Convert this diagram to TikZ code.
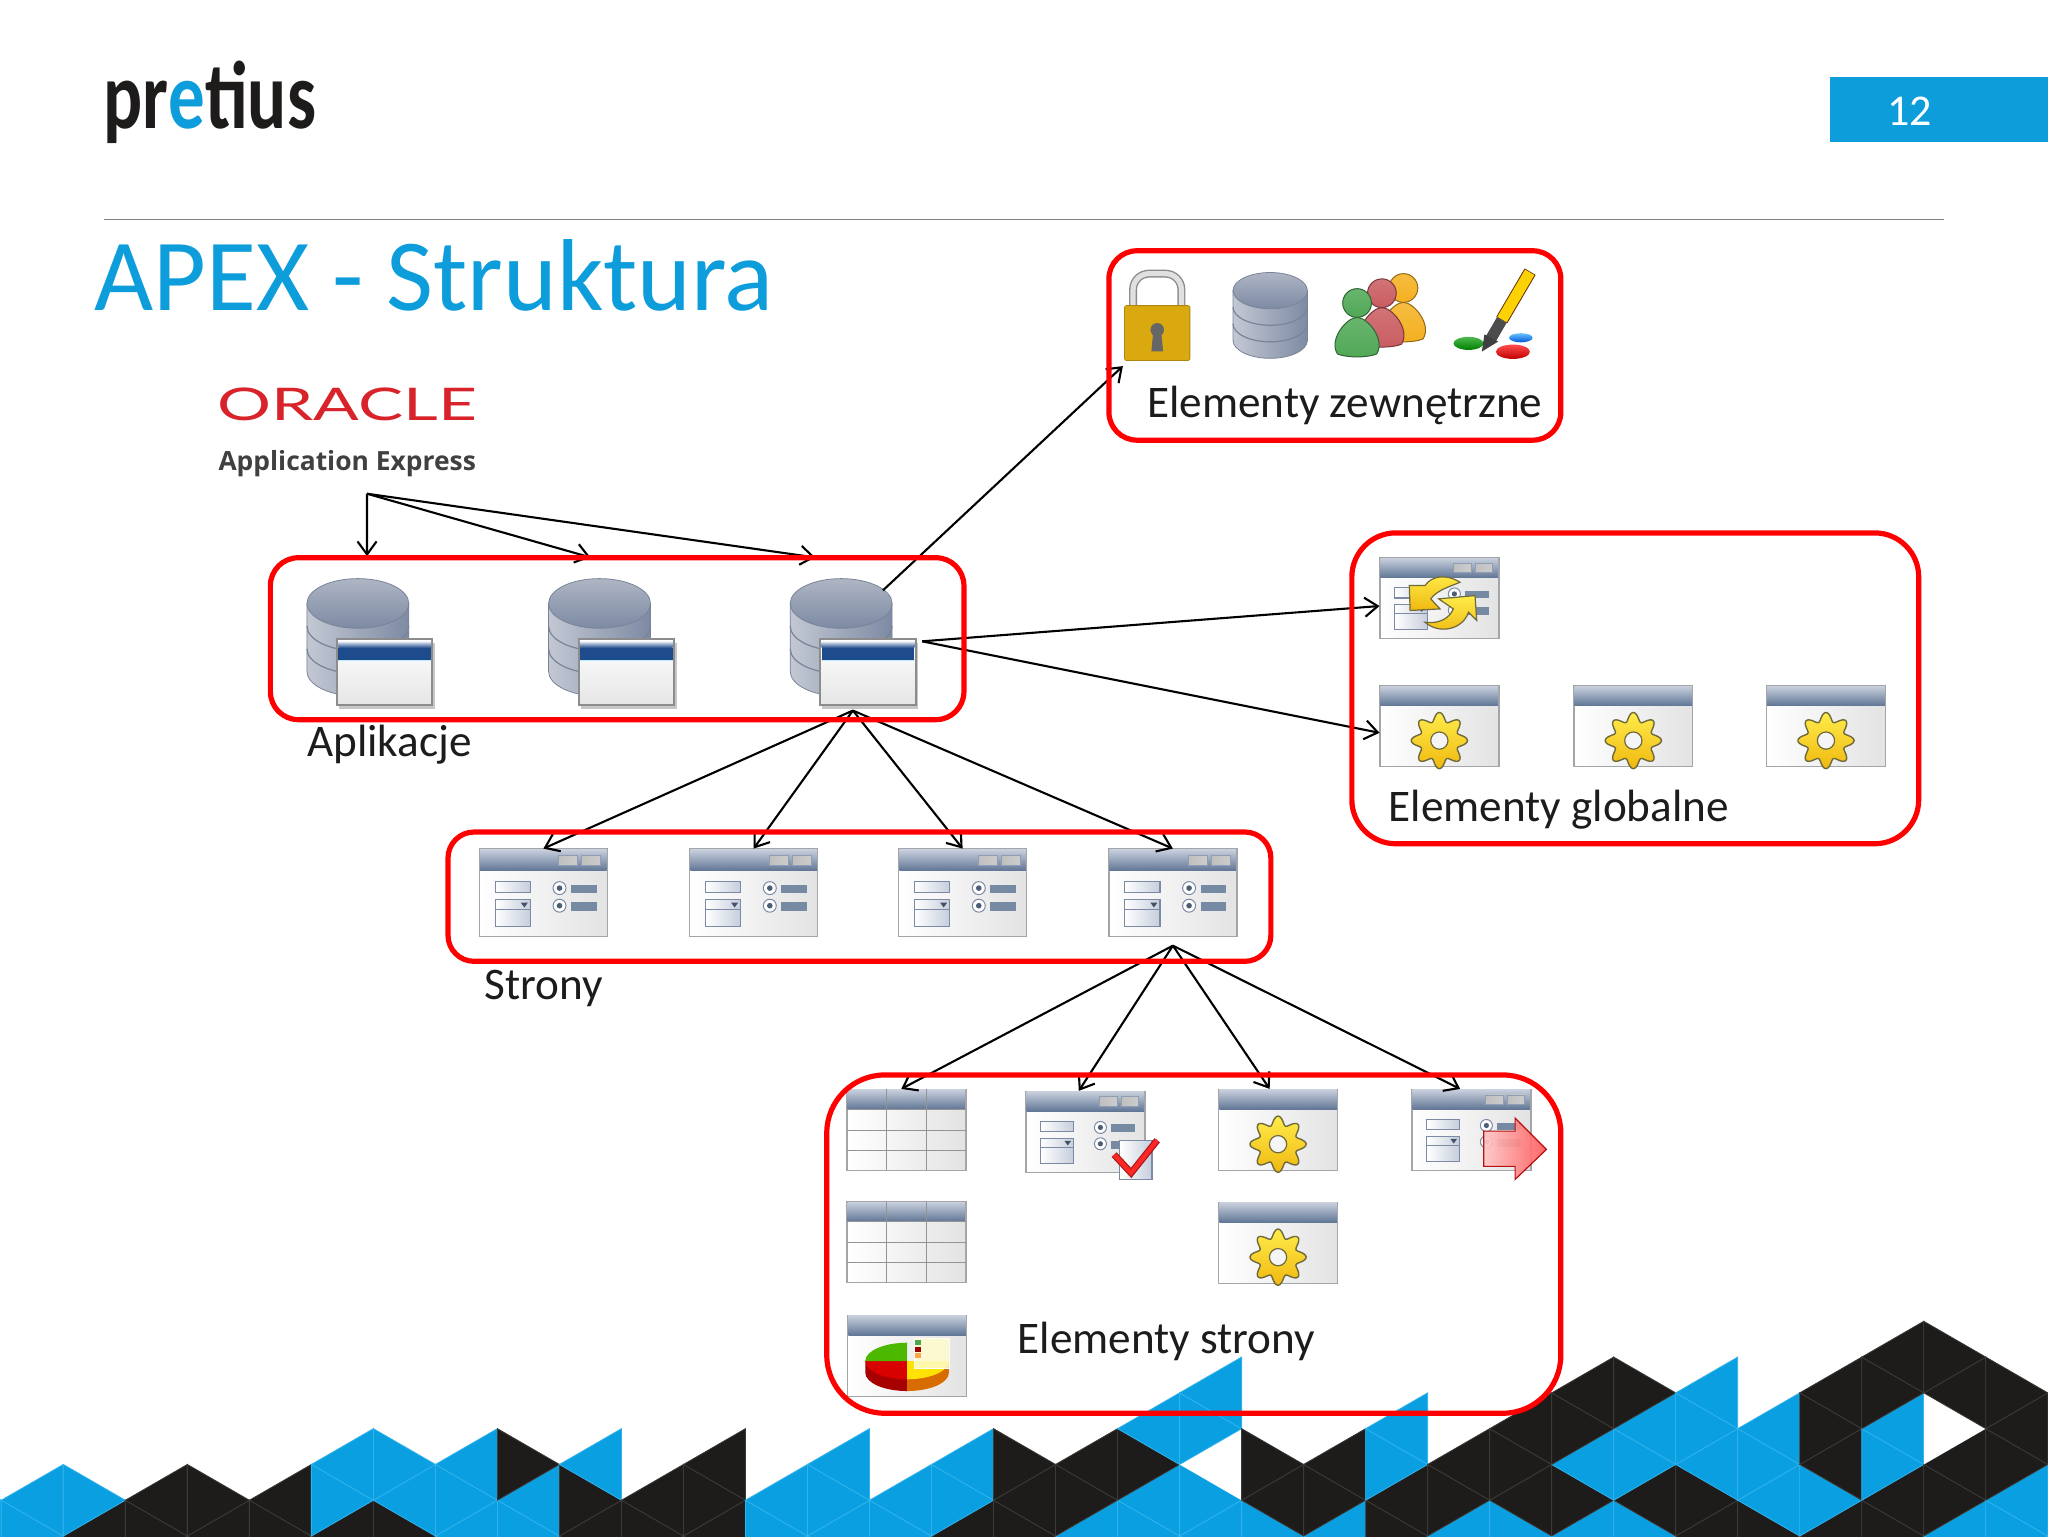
\documentclass[tikz,border=0pt]{standalone}
\usepackage{fontspec}
\setmainfont{Carlito}
\newfontfamily\oraclefont{Lato}
\newfontfamily\subfont{Open Sans}
\usetikzlibrary{arrows.meta}
\definecolor{apexblue}{HTML}{0D9DDB}
\definecolor{triblue}{HTML}{0A9FE0}
\definecolor{triseam}{HTML}{2FB2EE}
\definecolor{triblack}{HTML}{1E1C1B}
\definecolor{triline}{HTML}{3C3A37}
\definecolor{inktext}{HTML}{1C1C1C}
\definecolor{oraclered}{HTML}{D8232A}
\definecolor{framegray}{HTML}{A3A5A8}
\definecolor{barlight}{HTML}{C6CEDC}
\definecolor{bardark}{HTML}{5F7594}
\definecolor{fieldline}{HTML}{7C8AA6}
\definecolor{dbedge}{HTML}{7A8498}
\definecolor{dbleft}{HTML}{C3C8D3}
\definecolor{dbmid}{HTML}{ECEEF2}
\definecolor{dbright}{HTML}{7D8AA3}
\definecolor{appblue}{HTML}{1E4B8C}
\definecolor{geardark}{HTML}{6F6A3C}
\definecolor{gearhigh}{HTML}{FFEC4A}
\definecolor{gearlow}{HTML}{F0B810}
\definecolor{lockside}{HTML}{D9A90F}
\definecolor{lockmid}{HTML}{F5D538}
\definecolor{persongreen}{HTML}{4FA856}
\definecolor{personred}{HTML}{C95C60}
\definecolor{personyellow}{HTML}{F4B020}
\newcommand{\winbase}{
  \path[draw=framegray,line width=.7pt,left color=white,right color=black!11] (-45.5,-31) rectangle (45.5,31);
  \path[top color=barlight,bottom color=bardark] (-45,-30.5) rectangle (45,-15.5);
}
\tikzset{
  iconbox/.style 2 args={inner sep=0pt,minimum width={#1*0.65306pt},minimum height={#2*0.65306pt}},
  caption/.style={anchor=base west,inner sep=0pt,text=inktext,font=\fontsize{22.6}{27}\selectfont},
  redbox/.style={draw=red,line width=2.6pt,rounded corners=#1},
  link/.style={->,black,line width=1.05pt},
  triB/.style={fill=triblue,draw=triseam,line width=.4pt},
  triK/.style={fill=triblack,draw=triline,line width=.4pt},
  triW/.style={fill=white},
  formwin/.pic={
    \winbase
    \foreach \xx in {10.8,27.2}
      \path[draw=bardark!70,line width=.3pt,left color=black!25,right color=white!80!black] (\xx,-26.8) rectangle ++(13.6,7.1);
    \path[draw=fieldline,line width=.6pt,left color=white,right color=barlight] (-34.3,-8) rectangle (-9.2,-.2);
    \path[draw=fieldline,line width=.6pt,left color=white,right color=barlight] (-34.3,5) rectangle (-9.2,12);
    \path[draw=fieldline,line width=.6pt,left color=white,right color=barlight] (-34.3,12) rectangle (-9.2,24.2);
    \fill[bardark!70!black] (-16,7) -- (-11,7) -- (-13.5,10.5) -- cycle;
    \foreach \yy in {-3.3,9.2} {
      \draw[fieldline,fill=white,line width=.5pt] (11.5,\yy) circle (4.6);
      \fill[bardark!80!black] (11.5,\yy) circle (2);
    }
    \fill[bardark!85] (19.7,-5.6) rectangle (38,.2);
    \fill[bardark!85] (19.7,6.8) rectangle (38,13.2);
  },
  syncwin/.pic={
    \pic {formwin};
    \path[draw=geardark,line width=.6pt,top color=gearhigh,bottom color=gearlow] (15.8,-12.2) .. controls (5,-19) and (-6,-17) .. (-11,-9.7) -- (-23,-9.7) -- (-22.4,9.4) -- (.5,8.2) -- (-6.6,.5) .. controls (-2,-6) and (8,-9) .. (15.8,-12.2) -- cycle;
    \path[draw=geardark,line width=.6pt,top color=gearhigh,bottom color=gearlow] (-11,18.4) .. controls (0,20) and (8,15) .. (10.7,8.2) -- (-.5,.5) -- (27.3,-2) -- (28.6,17) -- (22.3,10.7) .. controls (18,24) and (0,28) .. (-11,18.4) -- cycle;
  },
  gearwin/.pic={
    \winbase
    \path[draw=geardark,line width=.7pt,top color=gearhigh,bottom color=gearlow]
      plot[domain=0:360,samples=120,smooth] ({(18.2+3.3*cos(8*\x))*cos(\x)},{11+(18.2+3.3*cos(8*\x))*sin(\x)}) -- cycle;
    \draw[geardark,fill=white!92!gray,line width=.6pt] (0,11) circle (6.6);
  },
  gridwin/.pic={
    \winbase
    \foreach \xx in {-15.2,15.2}
      \draw[black!42,line width=.6pt] (\xx,-31) -- (\xx,31);
    \foreach \yy in {-15.5,.3,15.8}
      \draw[black!42,line width=.6pt] (-45.5,\yy) -- (45.5,\yy);
  },
  checkwin/.pic={
    \pic {formwin};
    \path[draw=fieldline,line width=.6pt,left color=white,right color=barlight] (26,6.5) rectangle (51,36.5);
    \draw[red!60!black!90,line width=3.4pt,line join=miter] (22,17.5) -- (35,31.5) -- (55,6.5);
    \draw[red!85!white,line width=2.2pt,line join=miter] (22,17.5) -- (35,31.5) -- (55,6.5);
  },
  arrowwin/.pic={
    \pic {formwin};
    \path[draw=red!70!black,line width=.6pt,left color=red!22!white,right color=red!65!white,opacity=.92]
      (9.5,1) -- (33.5,1) -- (33.5,-9) -- (57.5,15) -- (33.5,38) -- (33.5,28) -- (9.5,28) -- cycle;
  },
  piewin/.pic={
    \winbase
    \fill[red!65!black] (-32,4) -- (-32,13) arc (180:90:32 and 14) -- (0,18) -- cycle;
    \fill[orange!85!black] (0,27) arc (90:0:32 and 14) -- (32,4) -- (0,18) -- cycle;
    \fill[red!85!black] (0,4) -- (-32,4) arc (180:90:32 and 14) -- cycle;
    \fill[green!60!black!70!yellow] (0,4) -- (0,-10) arc (270:180:32 and 14) -- cycle;
    \fill[yellow!85!orange] (0,4) -- (32,4) arc (0:90:32 and 14) -- cycle;
    \path[fill=white!80!yellow,draw=white,line width=.4pt,opacity=.85] (5.5,-13) rectangle (32,10);
    \fill[green!50!black!70] (6,-12) rectangle (11,-8);
    \fill[red!60!black] (6,-7) rectangle (11,-3);
    \fill[orange!70] (6,-2) rectangle (11,2);
  },
  dbicon/.pic={
    \path[draw=dbedge,line width=.4pt,left color=dbleft,middle color=dbmid,right color=dbright]
      (-39,-26) -- (-39,26) arc (180:0:39 and 19) -- (39,-26) -- cycle;
    \foreach \yy in {-8.7,8.7}
      \draw[dbedge,line width=.6pt] (-39,\yy) arc (180:0:39 and 19);
    \path[draw=dbedge,line width=.4pt,top color=dbleft!70!dbright,bottom color=dbright] (0,-26) ellipse (39 and 19);
  },
  appicon/.pic={
    \pic[shift={(-9,-3.5)}] {dbicon};
    \fill[black!22] (-23.5,.5) rectangle (50,51);
    \path[draw=black!45,line width=.9pt,top color=white,bottom color=black!10] (-25,-2.5) rectangle (48,48.5);
    \path[top color=white,bottom color=appblue] (-24,-1) rectangle (47,4.5);
    \fill[appblue] (-24,4.5) rectangle (47,13.5);
    \fill[cyan!25] (-24,13.5) rectangle (47,14.5);
  },
  lockicon/.pic={
    \draw[black!45,line width=4pt,rounded corners=8pt] (-18.5,-6) -- (-18.5,-32) -- (18.5,-32) -- (18.5,-6);
    \draw[black!12,line width=2.6pt,rounded corners=8pt] (-18.5,-6) -- (-18.5,-32) -- (18.5,-32) -- (18.5,-6);
    \path[draw=lockside!80!black,line width=.4pt,left color=lockside,middle color=lockmid,right color=lockside,rounded corners=1pt] (-25,-7.5) rectangle (25,34.5);
    \fill[black!60] (0,11) circle (5.2);
    \fill[black!60] (-3,12) -- (3,12) -- (4.5,27.5) -- (-4.5,27.5) -- cycle;
  },
  pics/personicon/.style={code={
    \path[draw=#1!60!black,line width=.5pt,top color=#1!85!white,bottom color=#1] (-15,39) .. controls (-22,28) and (-8,11) .. (0,11) .. controls (8,11) and (22,28) .. (15,39) .. controls (8,42) and (-8,42) .. (-15,39) -- cycle;
    \path[draw=#1!60!black,line width=.5pt,top color=#1!85!white,bottom color=#1] (0,0) circle (11);
  }},
  peopleicon/.pic={
    \pic at (16.5,-20) {personicon=personyellow};
    \pic at (0,-16) {personicon=personred};
    \pic at (-19,-8.5) {personicon=persongreen};
  },
  brushicon/.pic={
    \path[top color=green!60!black!70,bottom color=green!50!black] (-19.7,20.9) ellipse (11.5 and 5);
    \path[top color=cyan!60!blue!60,bottom color=blue!60!cyan!85!black] (20.4,16.6) ellipse (9 and 3.5);
    \path[top color=red!70,bottom color=red!75!black] (14.3,27.3) ellipse (13 and 5.5);
    \draw[black!60!orange,line width=6.4pt] (27.5,-34) -- (5.8,3);
    \draw[yellow!70!orange,line width=5.4pt] (27.2,-33.5) -- (6,2.6);
    \draw[black!70,line width=5.6pt] (5.8,3) -- (-3.1,18.3);
    \fill[black!75] (-7.5,14) -- (3,19.5) -- (-9.5,27.2) -- cycle;
  }
}
\begin{document}
\begin{tikzpicture}[x=0.65306pt,y=-0.65306pt,>={Straight Barb[length=6.5pt,width=9.5pt]}]
  \useasboundingbox (0,0) rectangle (1568,1176);
  \fill[white] (0,0) rectangle (1568,1176);

  \foreach \ii/\tris in {-1/{B,B},0/{B,B},1/{K,B},2/{K,K},3/{K,K},4/{K,K},5/{K,B,B},6/{K,B,B},7/{B,B,B},8/{B,B,K},9/{K,K,B},
      10/{K,K},11/{K,K,K},12/{B,B},13/{B,B,B},14/{B,B},15/{K,B,B},16/{K,K,K},17/{B,K,K},18/{B,B,K,B},19/{B,B,W,B,B},
      20/{B,K,K},21/{B,K,K},22/{K,K,B,B},23/{B,K,K},24/{B,K,K,K},25/{B,K,B,K,K},26/{B,K,B,B,K},27/{K,K,B,B,B},
      28/{K,B,B,B},29/{K,B,K,K,K},30/{K,K,B,B,K,K},31/{B,K,K,W,K,K},32/{B,B,K,K,K}} {
    \foreach \cc [count=\nn from -1] in \tris {
      \pgfmathsetmacro\xl{1+\ii*47.48}
      \pgfmathsetmacro\xr{1+(\ii+1)*47.48}
      \pgfmathsetmacro\ya{1176-27.4*\nn}
      \pgfmathsetmacro\yb{1176-27.4*(\nn+1)}
      \pgfmathsetmacro\yc{1176-27.4*(\nn+2)}
      \pgfmathtruncatemacro\pp{mod(\ii+\nn+2,2)}
      \ifnum\pp=1
        \path[tri\cc] (\xl,\ya) -- (\xl,\yc) -- (\xr,\yb) -- cycle;
      \else
        \path[tri\cc] (\xr,\ya) -- (\xr,\yc) -- (\xl,\yb) -- cycle;
      \fi
    }
  }

  \node[anchor=base west,inner sep=0pt,xscale=.76,text=triblack,font=\bfseries\fontsize{48}{48}\selectfont] (logo) at (79,98) {pr\textcolor{apexblue}{e}tius};
  \node[fill=apexblue,minimum width=109.1pt,minimum height=32.7pt,inner sep=0pt] (page_no) at (1484.5,84) {};
  \node[text=white,inner sep=0pt,font=\fontsize{22}{26}\selectfont] (page_num) at (1462,85) {12};
  \coordinate (rule_a) at (80,168);
  \coordinate (rule_b) at (1488,168);
  \draw[black!50,line width=.6pt] (rule_a) -- (rule_b);
  \node[anchor=base west,inner sep=0pt,text=apexblue,font=\fontsize{51.1}{56}\selectfont] (title) at (72,238) {APEX - Struktura};

  \node[anchor=base west,inner sep=0pt,xscale=1.5,text=oraclered,font=\oraclefont\fontsize{22.5}{24}\selectfont] (oracle) at (166,322) {ORACLE};
  \node[inner sep=0pt,text=oraclered,font=\fontsize{5}{6}\selectfont] (oracle_reg) at (361,300) {®};
  \node[anchor=base west,inner sep=0pt,text=black!75,font=\subfont\bfseries\fontsize{13.2}{15}\selectfont] (oracle_sub) at (167,360) {Application Express};
  \coordinate (oracle_out) at (281,378);

  \foreach \nn/\xx in {1/283,2/468,3/653} {
    \node[iconbox={96}{97}] (app_\nn) at (\xx,491.5) {};
    \pic at (app_\nn) {appicon};
  }
  \coordinate (app_top) at (676,452);
  \coordinate (app_right) at (706,491);
  \coordinate (app_bottom) at (653,544);
  \node[caption] (app_label) at (235,579) {Aplikacje};

  \node[iconbox={52}{69}] (ext_lock) at (886,241.5) {};
  \pic at (ext_lock) {lockicon};
  \node[iconbox={57}{65}] (ext_db) at (972.5,241.5) {};
  \pic[scale=.73] at (ext_db) {dbicon};
  \node[iconbox={70}{65}] (ext_people) at (1058,240.5) {};
  \pic at (ext_people) {peopleicon};
  \node[iconbox={62}{70}] (ext_brush) at (1144,242) {};
  \pic at (ext_brush) {brushicon};
  \node[caption] (ext_label) at (878,320) {Elementy zewnętrzne};

  \node[iconbox={91}{62}] (glob_sync) at (1102,458) {};
  \pic at (glob_sync) {syncwin};
  \foreach \nn/\xx in {1/1102,2/1250.5,3/1398} {
    \node[iconbox={91}{62}] (glob_\nn) at (\xx,556) {};
    \pic at (glob_\nn) {gearwin};
  }
  \node[caption] (glob_label) at (1063,629) {Elementy globalne};

  \foreach \nn/\xx in {1/416,2/577,3/737,4/898} {
    \node[iconbox={98}{67}] (page_\nn) at (\xx,683.5) {};
    \pic[scale=1.077] at (page_\nn) {formwin};
  }
  \coordinate (page_bottom) at (898,724);
  \node[caption] (page_label) at (371,765) {Strony};

  \node[iconbox={91}{62}] (el_grid_1) at (694,865) {};
  \pic at (el_grid_1) {gridwin};
  \node[iconbox={91}{62}] (el_check) at (831,866.5) {};
  \pic at (el_check) {checkwin};
  \node[iconbox={91}{62}] (el_gear_1) at (978.5,865) {};
  \pic at (el_gear_1) {gearwin};
  \node[iconbox={91}{62}] (el_arrow) at (1126.5,865) {};
  \pic at (el_arrow) {arrowwin};
  \node[iconbox={91}{62}] (el_grid_2) at (694,951) {};
  \pic at (el_grid_2) {gridwin};
  \node[iconbox={91}{62}] (el_gear_2) at (978.5,951.5) {};
  \pic at (el_gear_2) {gearwin};
  \node[iconbox={91}{62}] (el_pie) at (694.5,1038) {};
  \pic at (el_pie) {piewin};
  \node[caption] (el_label) at (779,1036) {Elementy strony};

  \draw[link] (oracle_out) -- ([xshift=-1.3pt,yshift=11pt]app_1.north);
  \draw[link] (oracle_out) -- ([xshift=-10.4pt,yshift=10.4pt]app_2.north);
  \draw[link] (oracle_out) -- ([xshift=-18.9pt,yshift=10.4pt]app_3.north);
  \draw[link] (app_top) -- ([yshift=-2.6pt]ext_lock.south west);
  \draw[link] (app_right) -- ([yshift=-3.9pt]glob_sync.west);
  \draw[link] (app_right) -- ([yshift=-3.3pt]glob_1.west);
  \foreach \nn in {1,2,3,4}
    \draw[link] (app_bottom) -- (page_\nn.north);
  \draw[link] (page_bottom) -- ([xshift=-2.6pt]el_grid_1.north);
  \draw[link] (page_bottom) -- ([xshift=-3.3pt]el_check.north);
  \draw[link] (page_bottom) -- ([xshift=-4.2pt]el_gear_1.north);
  \draw[link] (page_bottom) -- ([xshift=-5.6pt]el_arrow.north);

  \draw[redbox=14pt] (849,192) rectangle (1195,337);
  \draw[redbox=14pt] (207,427) rectangle (738,551);
  \draw[redbox=22pt] (1035,408) rectangle (1469,646);
  \draw[redbox=13pt] (343,637) rectangle (973,736);
  \draw[redbox=29pt] (633,823) rectangle (1195,1082);
\end{tikzpicture}
\end{document}
